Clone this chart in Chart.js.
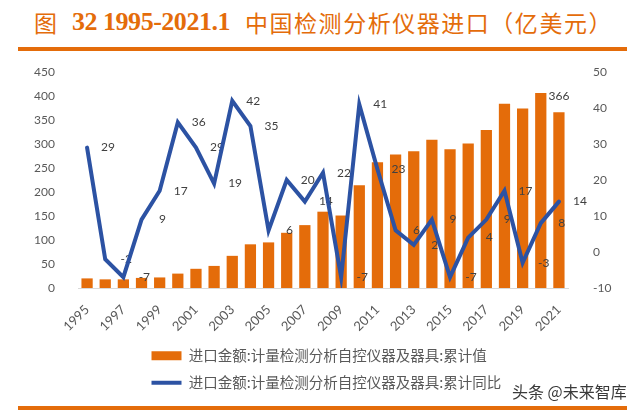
<!DOCTYPE html>
<html>
<head>
<meta charset="utf-8">
<script src="https://cdn.jsdelivr.net/npm/chart.js@4"></script>
<style>
  body { margin: 0; background: #fff; }
  #wrap { position: relative; width: 640px; height: 410px; overflow: hidden; background: #fff; }
  .t { position: absolute; top: 5px; color: #E46C0A; white-space: nowrap; line-height: 34px; }
  .cn { font-family: "Noto Sans CJK SC", sans-serif; font-size: 23px; }
  .num { font-family: "Liberation Serif", serif; font-weight: bold; font-size: 26px; }
  .rule { position: absolute; left: 18px; width: 609px; background: #E46C0A; }
  #mark { position: absolute; left: 512px; top: 379px; font-family: "Noto Sans CJK SC", sans-serif; font-size: 16px; color: #3a3a3a; }
  canvas { position: absolute; left: 0; top: 0; }
</style>
</head>
<body>
<div id="wrap">
  <span class="t cn" style="left:34px;">图</span>
  <span class="t num" id="tYears" style="left:72px;">32 1995-2021.1</span>
  <span class="t cn" id="tText" style="left:245px;">中国检测分析仪器进口（亿美元）</span>
  <div class="rule" style="top:47px;height:4px;"></div>
  <canvas id="importChart" width="640" height="410"></canvas>
  <div id="mark">头条 @未来智库</div>
  <div class="rule" style="top:406px;height:4px;"></div>
</div>
<script>
// years on the x axis, every other one gets a label
const years = ['1995','1996','1997','1998','1999','2000','2001','2002','2003','2004','2005','2006','2007',
  '2008','2009','2010','2011','2012','2013','2014','2015','2016','2017','2018','2019','2020','2021'];
const shownYears = ['1995','1997','1999','2001','2003','2005','2007','2009','2011','2013','2015','2017','2019','2021'];

// import value, 亿美元 (left axis)
const importValue = [20, 18, 18, 21, 22, 30, 40, 46, 67, 91, 95, 115, 131, 159, 151, 214,
  262, 278, 285, 309, 289, 301, 329, 384, 374, 406, 366];
// year-on-year growth, % (right axis)
const importGrowth = [29, -2, -7, 9, 17, 36, 29, 19, 42, 35, 6, 20, 14, 22, -7, 41,
  23, 6, 2, 9, -7, 4, 9, 17, -3, 8, 14];

const barLabel = '进口金额:计量检测分析自控仪器及器具:累计值';
const lineLabel = '进口金额:计量检测分析自控仪器及器具:累计同比';

// stretch title pieces to the widths seen in the picture
function fitWidth(el, target) {
    const n = el.textContent.length;
    const w = el.getBoundingClientRect().width;
    el.style.letterSpacing = ((target - w) / n) + 'px';
}
fitWidth(document.getElementById('tYears'), 158);
fitWidth(document.getElementById('tText'), 368);

const tickFont = { family: 'Lato, "Noto Sans CJK SC", sans-serif', size: 12 };

// numbers next to the line points + the last bar, drawn under the line
const valueLabels = {
    id: 'valueLabels',
    afterDatasetDraw(chart, args) {
        if (args.index !== 0) return;
        const c = chart.ctx;
        c.save();
        c.font = '12px Lato, sans-serif';
        c.fillStyle = '#404040';
        c.textAlign = 'center';
        c.textBaseline = 'middle';
        chart.getDatasetMeta(1).data.forEach((pt, i) => {
            c.fillText(String(importGrowth[i]), pt.x + 21, pt.y);
        });
        const bars = chart.getDatasetMeta(0).data;
        const last = bars.length - 1;
        c.fillText(String(importValue[last]), bars[last].x, bars[last].y - 16);
        c.restore();
    }
};

// legend rows share one left edge, like the original
const legendShift = {
    id: 'legendShift',
    afterLayout(chart) {
        chart.legend.left = 139;
    }
};

const ctx = document.getElementById('importChart').getContext('2d');
const importChart = new Chart(ctx, {
    type: 'bar',
    data: {
        labels: years,
        datasets: [{
            type: 'bar',
            label: barLabel,
            data: importValue,
            backgroundColor: '#E46C0A',
            yAxisID: 'y',
            barPercentage: 0.62,
            categoryPercentage: 1,
            pointStyle: 'rect',
            order: 2
        }, {
            type: 'line',
            label: lineLabel,
            data: importGrowth,
            borderColor: '#2C52A3',
            backgroundColor: '#2C52A3',
            borderWidth: 4,
            borderCapStyle: 'round',
            pointRadius: 0,
            pointStyle: 'line',
            tension: 0,
            yAxisID: 'y1',
            order: 1
        }]
    },
    options: {
        responsive: false,
        animation: false,
        devicePixelRatio: 1,
        layout: { padding: { top: 72, bottom: 10, left: 0, right: 0 } },
        plugins: {
            legend: {
                position: 'bottom',
                align: 'start',
                labels: {
                    usePointStyle: true,
                    pointStyleWidth: 30,
                    boxHeight: 9,
                    padding: 12.5,
                    color: '#595959',
                    font: { family: '"Noto Sans CJK SC", sans-serif', size: 14.5 },
                    sort: (a, b) => a.datasetIndex - b.datasetIndex
                }
            },
            tooltip: { enabled: false }
        },
        scales: {
            x: {
                grid: { display: false },
                border: { color: '#D9D9D9' },
                ticks: {
                    autoSkip: false,
                    maxRotation: 45,
                    minRotation: 45,
                    padding: 6,
                    color: '#595959',
                    font: { family: tickFont.family, size: 13 },
                    callback: function (value) {
                        const lbl = this.getLabelForValue(value);
                        return shownYears.includes(lbl) ? lbl : '';
                    }
                },
                afterFit(scale) { scale.height = 48; }
            },
            y: {
                position: 'left',
                min: 0,
                max: 450,
                grid: { display: false },
                border: { display: false },
                ticks: { stepSize: 50, padding: 15, color: '#595959', font: tickFont },
                afterFit(scale) { scale.width = 78; }
            },
            y1: {
                position: 'right',
                min: -10,
                max: 50,
                grid: { display: false },
                border: { display: false },
                ticks: { stepSize: 10, padding: 17, color: '#595959', font: tickFont },
                afterFit(scale) { scale.width = 72; }
            }
        }
    },
    plugins: [valueLabels, legendShift]
});
</script>
</body>
</html>
